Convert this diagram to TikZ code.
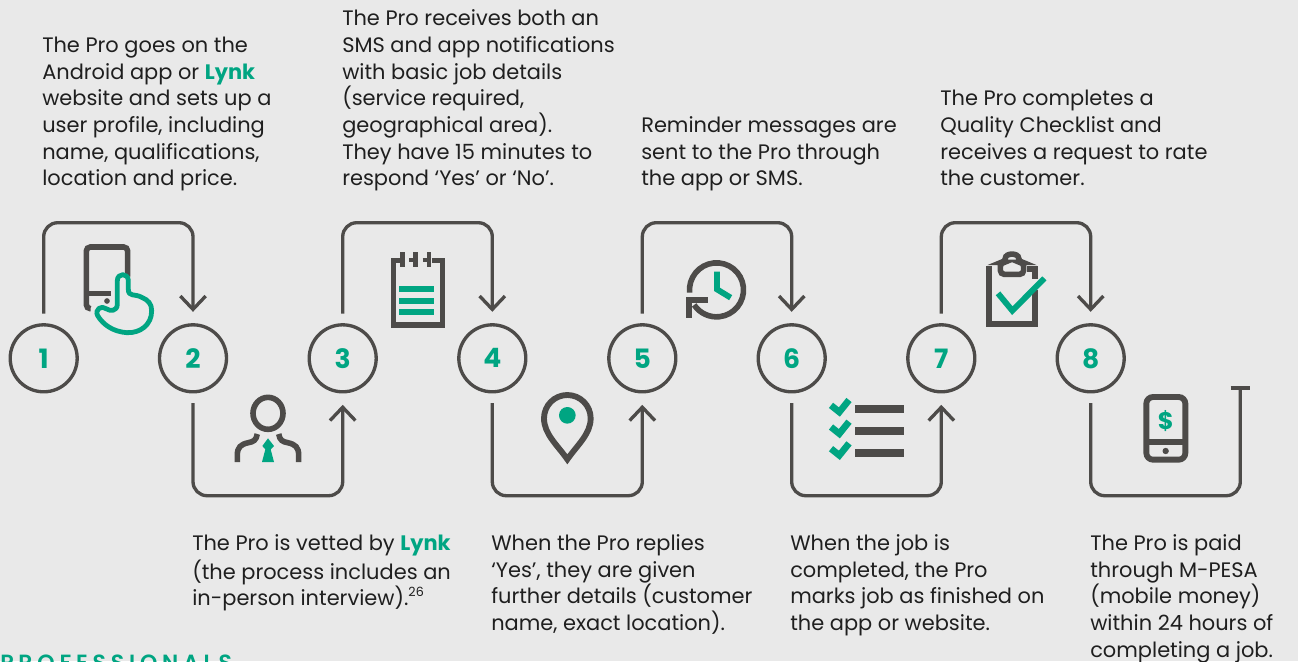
\documentclass[tikz,border=0pt]{standalone}
\usepackage{fontspec}
\usetikzlibrary{arrows.meta}
\setmainfont{Poppins}
\newfontfamily\numfont{Poppins}[UprightFont=*-Bold,BoldFont=*-Bold]
\newfontfamily\headfont{Poppins}[UprightFont=*-SemiBold,LetterSpace=22]
\definecolor{ink}{HTML}{4D4B49}
\definecolor{teal}{HTML}{00A582}
\definecolor{paper}{HTML}{E9E9E9}
\definecolor{body}{HTML}{1F1F1F}
\newcommand{\hl}[1]{{\bfseries\color{teal}#1}}
\tikzset{
  x=0.75pt,y=-0.75pt,
  stepnode/.style={circle,draw=ink,line width=2.5pt,minimum size=50.25pt,inner sep=0pt,text=teal,font=\numfont\fontsize{20}{20}\selectfont},
  conn/.style={draw=ink,line width=2.5pt,rounded corners=10.5pt},
  connarrow/.style={conn,-{Straight Barb[length=10pt,width=19pt,line width=2.5pt]}},
  txt/.style={inner sep=0pt,align=left,text=body,font=\fontsize{15.7}{20}\selectfont},
  icon/.style={draw=ink,line width=4pt,line join=miter},
  zoomA/.style={shift={(0,210)},x=0.25pt,y=-0.25pt},
  zoomB/.style={shift={(450,210)},x=0.25pt,y=-0.25pt},
  zoomC/.style={shift={(880,210)},x=0.25pt,y=-0.25pt},
}
\begin{document}
\begin{tikzpicture}
\useasboundingbox (0,0) rectangle (1298,661);
\fill[paper] (0,0) rectangle (1298,661);

% step circles
\foreach \n/\xx in {1/43.7,2/193,3/342.7,4/492.3,5/642.3,6/791.7,7/941.3,8/1090.7}
  \node[stepnode] (n\n) at (\xx,358.3) {\raisebox{-1pt}{\n}};

% connectors
\foreach \a/\b in {1/2,3/4,5/6,7/8}
  \draw[connarrow,shorten <=7.2pt,shorten >=8.5pt]
    (n\a.north) -- (n\a.north |- 0,222.7) -- (n\b.north |- 0,222.7) -- (n\b.north);
\foreach \a/\b in {2/3,4/5,6/7}
  \draw[connarrow,shorten <=7.2pt,shorten >=8.5pt]
    (n\a.south) -- (n\a.south |- 0,495.7) -- (n\b.south |- 0,495.7) -- (n\b.south);
\coordinate (endtop) at (1240.3,388.3);
\draw[conn,shorten <=7.2pt] (n8.south) -- (n8.south |- 0,495.7) -- (endtop |- 0,495.7) -- (endtop);
\draw[ink,line width=3pt] (1230.7,388.3) -- (1250,388.3);

% icon 1: phone and hand
\begin{scope}[zoomA]
\draw[icon,line width=4.2pt,rounded corners=3pt] (383,200) -- (383,111) -- (259,111) -- (259,296) -- (272,296);
\draw[icon,line width=4.2pt] (262,250) -- (332,250);
\fill[ink] (321,273) circle (8.5);
\draw[teal,line width=3.6pt,line join=round,fill=paper]
  (352,212) .. controls (352,188) and (385,188) .. (385,212)
  -- (385,238) .. controls (385,262) and (405,250) .. (425,262)
  .. controls (445,270) and (455,282) .. (455,302)
  .. controls (455,345) and (420,370) .. (380,368)
  .. controls (340,365) and (310,345) .. (293,317)
  .. controls (283,298) and (305,285) .. (318,296)
  .. controls (330,304) and (352,305) .. (352,282) -- cycle;
\end{scope}

% icon 2: person
\begin{scope}[zoomA]
\draw[icon,line width=4.2pt] (804,610) ellipse (45 and 48);
\draw[icon,line width=4.2pt] (772,672) .. controls (768,692) and (760,695) .. (745,698) .. controls (722,703) and (712,712) .. (712,735) -- (712,756);
\draw[icon,line width=4.2pt] (836,672) .. controls (840,692) and (848,695) .. (863,698) .. controls (886,703) and (896,712) .. (896,735) -- (896,756);
\fill[teal] (804,685) -- (822,708) -- (812,718) -- (822,756) -- (786,756) -- (796,718) -- (787,708) -- cycle;
\end{scope}

% icon 3: notepad
\begin{scope}[zoomA]
\draw[icon,line width=3.8pt] (1200,151) -- (1180,151) -- (1180,345) -- (1327,345) -- (1327,151) -- (1295,151);
\draw[icon,line width=3.5pt] (1207,126) -- (1207,172);
\draw[icon,line width=3.5pt] (1247,126) -- (1247,172);
\draw[icon,line width=3.5pt] (1287,126) -- (1287,172);
\draw[icon,line width=3pt] (1228,151) -- (1240,151);
\draw[icon,line width=3pt] (1268,151) -- (1280,151);
\fill[teal] (1197,228) rectangle (1302,246);
\fill[teal] (1197,264) rectangle (1302,282);
\fill[teal] (1197,297) rectangle (1302,315);
\end{scope}

% icon 4: pin
\begin{scope}[zoomB]
\draw[icon,line width=4.4pt,miter limit=10] (352,748) .. controls (322,705) and (282,672) .. (282,625)
  arc[start angle=180,end angle=360,radius=70]
  .. controls (422,672) and (382,705) .. (352,748) -- cycle;
\fill[teal] (352,616) circle (25);
\end{scope}

% icon 5: clock
\begin{scope}[zoomB]
\draw[icon,line width=4.2pt] (719,248) arc[start angle=174,end angle=506,radius=81];
\draw[icon,line width=4.4pt] (709,270) -- (775,270);
\draw[icon,line width=4.4pt] (718,262) -- (718,324);
\draw[teal,line width=4.4pt,line join=miter] (801,185) -- (801,238) -- (842,263);
\end{scope}

% icon 6: checklist
\begin{scope}[zoomB]
\foreach \yy in {0,65,130} {
  \draw[teal,line width=5pt] (1143,\yy+586) -- (1168,\yy+606) -- (1197,\yy+570);
}
\fill[ink] (1215,585) rectangle (1362,609);
\fill[ink] (1215,651) rectangle (1362,675);
\fill[ink] (1215,717) rectangle (1362,741);
\end{scope}

% icon 7: clipboard
\begin{scope}[zoomC]
\draw[icon,line width=4.4pt] (327,168) -- (327,342) -- (465,342) -- (465,240);
\draw[icon,line width=4pt] (440,177) -- (465,177) -- (465,208);
\draw[icon,line width=4.2pt,rounded corners=3pt] (361,193) -- (361,157) -- (376,157) .. controls (376,128) and (416,128) .. (416,157) -- (431,157) -- (431,193) -- cycle;
\draw[teal,line width=4.4pt] (354,250) -- (397,302) -- (493,205);
\end{scope}

% icon 8: mobile money
\begin{scope}[zoomC]
\draw[icon,line width=4.4pt,rounded corners=5pt] (799,561) rectangle (916,749);
\draw[icon,line width=4.4pt] (799,697) -- (916,697);
\fill[ink] (857,723) circle (9.5);
\node[inner sep=0pt,text=teal,font=\numfont\fontsize{18}{18}\selectfont] (dollar) at (857,634) {\$};
\end{scope}

% texts above
\node[txt,anchor=south west] (t1) at (42,194) {The Pro goes on the\\Android app or \hl{Lynk}\\website and sets up a\\user profile, including\\name, qualifications,\\location and price.\strut};
\node[txt,anchor=south west] (t3) at (342,194) {The Pro receives both an\\SMS and app notifications\\with basic job details\\(service required,\\geographical area).\\They have 15 minutes to\\respond ‘Yes’ or ‘No’.\strut};
\node[txt,anchor=south west] (t5) at (641,194) {Reminder messages are\\sent to the Pro through\\the app or SMS.\strut};
\node[txt,anchor=south west] (t7) at (940,194) {The Pro completes a\\Quality Checklist and\\receives a request to rate\\the customer.\strut};

% texts below
\node[txt,anchor=north west] (t2) at (192,531.4) {\strut The Pro is vetted by \hl{Lynk}\\(the process includes an\\in-person interview).\raisebox{.45em}{\fontsize{9.5}{9.5}\selectfont 26}};
\node[txt,anchor=north west] (t4) at (491,531.4) {\strut When the Pro replies\\‘Yes’, they are given\\further details (customer\\name, exact location).};
\node[txt,anchor=north west] (t6) at (790,531.4) {\strut When the job is\\completed, the Pro\\marks job as finished on\\the app or website.};
\node[txt,anchor=north west] (t8) at (1090,531.4) {\strut The Pro is paid\\through M-PESA\\(mobile money)\\within 24 hours of\\completing a job.};

\begin{scope}
\clip (0,0) rectangle (1298,661);
\node[inner sep=0pt,anchor=base west,text=teal,font=\headfont\fontsize{16.5}{16.5}\selectfont] (head) at (0,670.4) {PROFESSIONALS};
\end{scope}
\end{tikzpicture}
\end{document}
